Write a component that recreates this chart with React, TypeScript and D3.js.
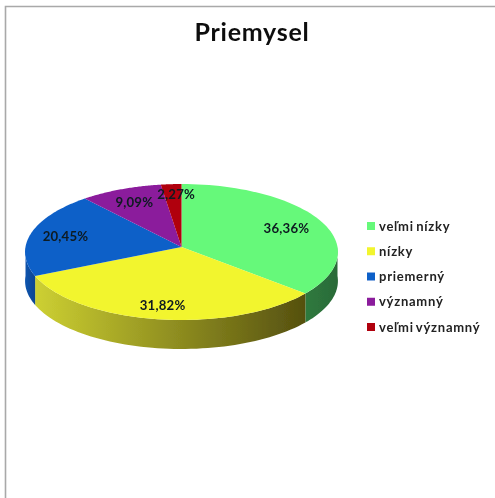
import React from "react";
import * as d3 from "d3";

const title = "Priemysel";
const categories = ["veľmi nízky", "nízky", "priemerný", "významný", "veľmi významný"];
const values = [36.36, 31.82, 20.45, 9.09, 2.27];
const valueLabels = ["36,36%", "31,82%", "20,45%", "9,09%", "2,27%"];
const topColors = ["#66F97A", "#F2F52F", "#1160C8", "#8B1A9C", "#B00010"];
const sideStart = ["#2F7A3E", "#CDD032", "#0F54AE", "#6d1480", "#7d000a"];
const sideEnd = ["#2A6A38", "#55500F", "#0B4690", "#6d1480", "#7d000a"];
const labelRadius = [0.72, 0.8, 0.75, 0.8, 0.8];
const labelNudgeX = [5, 0, -3, 2, 3];
const labelNudgeY = [1, 2, 0, 2.5, -2];

const CX = 181.5, CY = 247, A = 67.6, B = 156, K = 0.0735, DEPTH = 29;

// Perspective projection of the pie's unit disc onto the tilted ellipse.
const project = (angle: number, r = 1): [number, number] => {
  const u = r * Math.sin(angle);
  const v = -r * Math.cos(angle);
  const d = 1 - K * v;
  return [CX + (B * u) / d, CY + (A * v) / d];
};

const samples = (a0: number, a1: number) =>
  d3.range(0, 61).map((i) => a0 + ((a1 - a0) * i) / 60);

export default function App() {
  const arcs = d3.pie<number>().sort(null)(values);
  const line = d3.line();
  const legendY = d3.scalePoint<string>().domain(categories).range([226, 327]);

  return (
    <svg width={495} height={498} style={{ position: "absolute", left: 0, top: 0, background: "#fff" }}>
      <defs>
        <filter id="soft" x="-5%" y="-5%" width="110%" height="110%">
          <feGaussianBlur stdDeviation="0.55" />
        </filter>
        {arcs.map((a, i) => {
          const lo = Math.max(a.startAngle, Math.PI / 2);
          const hi = Math.min(a.endAngle, (3 * Math.PI) / 2);
          if (hi <= lo) return null;
          return (
            <linearGradient key={i} id={`side${i}`} gradientUnits="userSpaceOnUse"
              x1={project(hi)[0]} x2={project(lo)[0]} y1={0} y2={0}>
              <stop offset="0" stopColor={sideStart[i]} />
              <stop offset="1" stopColor={sideEnd[i]} />
            </linearGradient>
          );
        })}
      </defs>

      <path d="M495,6.5 H5.5 V498" fill="none" stroke="#a9a9a9" strokeWidth={1.6} />

      <g filter="url(#soft)">
        {arcs.map((a, i) => {
          const lo = Math.max(a.startAngle, Math.PI / 2);
          const hi = Math.min(a.endAngle, (3 * Math.PI) / 2);
          if (hi <= lo) return null;
          const top = samples(lo, hi).map((t) => project(t));
          const bottom = top.map(([x, y]) => [x, y + DEPTH] as [number, number]).reverse();
          return <path key={i} d={line([...top, ...bottom])! + "Z"} fill={`url(#side${i})`} />;
        })}
        {arcs.map((a, i) => {
          const pts: [number, number][] = [[CX, CY], ...samples(a.startAngle, a.endAngle).map((t) => project(t))];
          return <path key={i} d={line(pts)! + "Z"} fill={topColors[i]} />;
        })}
      </g>

      <g filter="url(#soft)" fontFamily="Lato, 'Open Sans', sans-serif" fontWeight={700} fill="#111">
        <text x={252} y={41} textAnchor="middle" fontSize={25} letterSpacing={0.75}>{title}</text>
        {arcs.map((a, i) => {
          const [x, y] = project((a.startAngle + a.endAngle) / 2, labelRadius[i]);
          return (
            <text key={i} x={x + labelNudgeX[i]} y={y + labelNudgeY[i]} dy="0.35em"
              textAnchor="middle" fontSize={13.2} letterSpacing={0.2} fill="#0d1a20">
              {valueLabels[i]}
            </text>
          );
        })}
        {categories.map((c, i) => (
          <g key={c}>
            <rect x={367} y={legendY(c)! - 4} width={8} height={8} fill={topColors[i]} />
            <text x={379} y={legendY(c)!} dy="0.35em" fontSize={13} letterSpacing={0.75} wordSpacing={-1.5} fill="#222">{c}</text>
          </g>
        ))}
      </g>
    </svg>
  );
}
